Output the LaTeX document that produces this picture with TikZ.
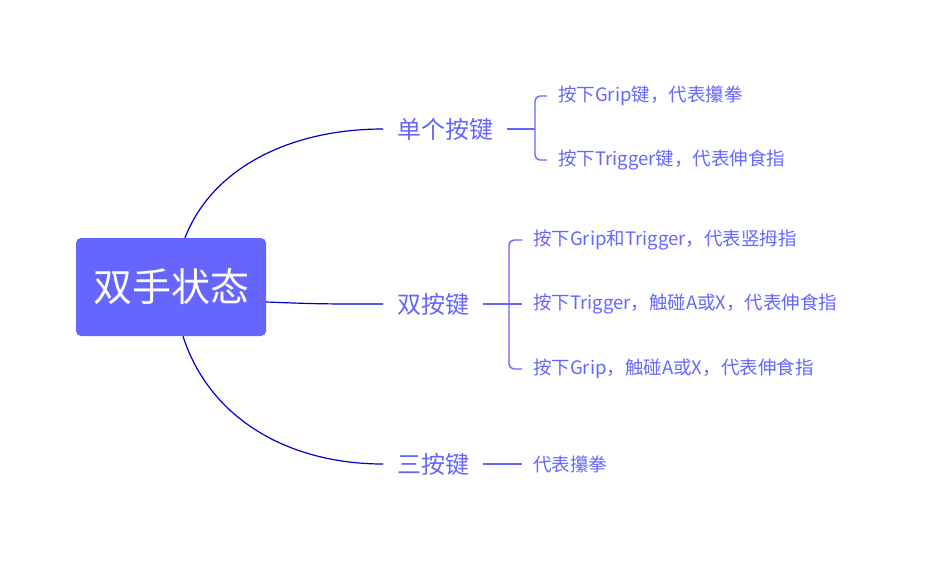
\documentclass[tikz,border=0pt]{standalone}
\usepackage{fontspec}
\setmainfont{Noto Sans CJK SC}
\definecolor{mainblue}{HTML}{6666FF}
\definecolor{linkblue}{HTML}{0000CC}

\begin{document}
\begin{tikzpicture}
[
	x=1pt,y=-1pt,
	root/.style={rectangle,rounded corners=5pt,fill=mainblue,text=white,minimum width=190pt,minimum height=98pt,font=\fontsize{39}{44}\selectfont},
	branch/.style={anchor=west,inner xsep=14pt,inner ysep=0pt,text=mainblue,font=\fontsize{24}{28}\selectfont},
	leaf/.style={anchor=west,inner xsep=11pt,inner ysep=0pt,text=mainblue,font=\fontsize{18.5}{22}\selectfont},
	link/.style={draw=linkblue,line width=1.2pt},
	brace/.style={draw=mainblue,line width=1.4pt,rounded corners=5pt}
]
\useasboundingbox (0,0) rectangle (929,563);

\node[root] (root) at (171,287) {双手状态};

\node[branch] (single) at (383,129) {单个按键};
\node[branch] (double) at (383,304) {双按键};
\node[branch] (triple) at (383,464) {三按键};

\node[leaf] (l11) at (547,96) {按下Grip键，代表攥拳};
\node[leaf] (l12) at (547,160) {按下Trigger键，代表伸食指};

\node[leaf] (l21) at (522,240) {按下Grip和Trigger，代表竖拇指};
\node[leaf] (l22) at (522,304) {按下Trigger，触碰A或X，代表伸食指};
\node[leaf] (l23) at (522,369) {按下Grip，触碰A或X，代表伸食指};

\node[leaf] (l31) at (522,464) {代表攥拳};

\coordinate (k1) at (535,129);
\coordinate (k2) at (509,304);

\draw[link] ([xshift=14pt]root.north) .. controls (212,168) and (290,129) .. (single.west);
\draw[link] ([yshift=-15pt]root.east) .. controls (320,304) .. (double.west);
\draw[link] ([xshift=12pt]root.south) .. controls (210,420) and (290,464) .. (triple.west);

\draw[brace] (single.east) -- (k1);
\draw[brace] (k1) |- (l11.west);
\draw[brace] (k1) |- (l12.west);

\draw[brace] (double.east) -- (l22.west);
\draw[brace] (k2) |- (l21.west);
\draw[brace] (k2) |- (l23.west);

\draw[brace] (triple.east) -- (l31.west);

\end{tikzpicture}
\end{document}
